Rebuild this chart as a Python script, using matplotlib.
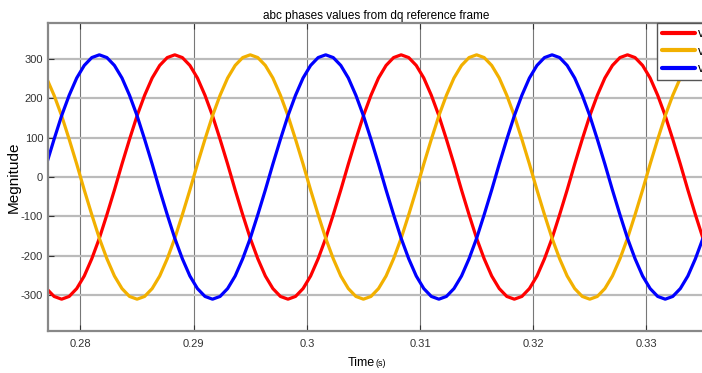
"""abc phase voltages reconstructed from the dq reference frame."""

import numpy as np
import matplotlib

matplotlib.use("Agg")
import matplotlib.pyplot as plt

plt.rcParams["font.family"] = ["Liberation Sans Narrow", "Liberation Sans", "DejaVu Sans"]
plt.rcParams["axes.unicode_minus"] = False

T0 = 0.277
DT = 1 / 1500
N = 89

va = [-284, -304, -311, -304, -284, -252, -208, -156, -96, -33, 33, 96, 156, 208, 252, 284, 304,
      311, 304, 284, 252, 208, 156, 96, 33, -33, -96, -156, -208, -252, -284, -304,
      -311, -304, -284, -252, -208, -156, -96, -33, 33, 96, 156, 208, 252, 284, 304,
      311, 304, 284, 252, 208, 156, 96, 33, -33, -96, -156, -208, -252, -284, -304,
      -311, -304, -284, -252, -208, -156, -96, -33, 33, 96, 156, 208, 252, 284, 304,
      311, 304, 284, 252, 208, 156, 96, 33, -33, -96, -156, -208]
vb = [252, 208, 156, 96, 33, -33, -96, -156, -208, -252, -284, -304, -311, -304, -284,
      -252, -208, -156, -96, -33, 33, 96, 156, 208, 252, 284, 304,
      311, 304, 284, 252, 208, 156, 96, 33, -33, -96, -156, -208, -252, -284, -304,
      -311, -304, -284, -252, -208, -156, -96, -33, 33, 96, 156, 208, 252, 284, 304,
      311, 304, 284, 252, 208, 156, 96, 33, -33, -96, -156, -208, -252, -284, -304,
      -311, -304, -284, -252, -208, -156, -96, -33, 33, 96, 156, 208, 252, 284, 304,
      311, 304]
vc = [33, 96, 156, 208, 252, 284, 304,
      311, 304, 284, 252, 208, 156, 96, 33, -33, -96, -156, -208, -252, -284, -304,
      -311, -304, -284, -252, -208, -156, -96, -33, 33, 96, 156, 208, 252, 284, 304,
      311, 304, 284, 252, 208, 156, 96, 33, -33, -96, -156, -208, -252, -284, -304,
      -311, -304, -284, -252, -208, -156, -96, -33, 33, 96, 156, 208, 252, 284, 304,
      311, 304, 284, 252, 208, 156, 96, 33, -33, -96, -156, -208, -252, -284, -304,
      -311, -304, -284, -252, -208, -156, -96]
labels = ["va", "vb", "vc"]
colors = ["#ff0000", "#f2b000", "#0000ff"]

xticks = [0.28, 0.29, 0.30, 0.31, 0.32, 0.33]
xticklabels = ["0.28", "0.29", "0.3", "0.31", "0.32", "0.33"]
yticks = [-300, -200, -100, 0, 100, 200, 300]

t = T0 + DT * np.arange(N)

fig = plt.figure(figsize=(7.02, 3.73), dpi=100)
ax = fig.add_axes([48 / 702, 42 / 373, 657 / 702, 308 / 373])

for y, lab, c in zip([va, vb, vc], labels, colors):
    ax.plot(t, y, color=c, lw=2.3, label=lab, solid_capstyle="round")

ax.set_xlim(0.27713, 0.33518)
ax.set_ylim(-392, 392)
ax.set_xticks(xticks)
ax.set_xticklabels(xticklabels)
ax.set_yticks(yticks)
ax.tick_params(direction="in", length=4, labelsize=8, colors="#333333", width=0.8,
               top=True, right=False)
ax.tick_params(axis="x", pad=6)
ax.xaxis.grid(True, color="#777777", lw=0.8)
ax.yaxis.grid(True, color="#bbbbbb", lw=1.6)
ax.set_axisbelow(True)
for s in ax.spines.values():
    s.set_color("#888888")
    s.set_linewidth(1.6)

ax.set_title("abc phases values from dq reference frame", fontsize=8.5, pad=3)
ax.set_ylabel("Megnitude", fontsize=11)
ax.yaxis.set_label_coords(-0.041, 0.5)
fig.text(375 / 702, 1 - 363 / 373, "Time", fontsize=9, ha="right", va="center")
fig.text(376 / 702, 1 - 364 / 373, "(s)", fontsize=6.5, ha="left", va="center")

leg = fig.legend(loc="upper left", bbox_to_anchor=(657 / 702, 1 - 23 / 373),
                 bbox_transform=fig.transFigure, borderaxespad=0, fontsize=9,
                 handlelength=2.6, handletextpad=0.3, labelspacing=0.45,
                 fancybox=False, framealpha=1, borderpad=0.4)
leg.get_frame().set_edgecolor("#555555")
leg.get_frame().set_linewidth(1.0)
for h in leg.get_lines():
    h.set_linewidth(3)

fig.savefig("out.png", dpi=100)
